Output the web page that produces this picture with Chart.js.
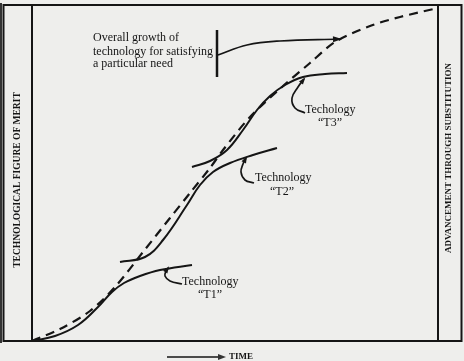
<!DOCTYPE html>
<html>
<head>
<meta charset="utf-8">
<script src="https://cdn.jsdelivr.net/npm/chart.js@4/dist/chart.umd.min.js"></script>
<style>
html,body{margin:0;padding:0;background:#eeeeec;}
#wrap{width:464px;height:361px;}
</style>
</head>
<body>
<div id="wrap"><canvas id="c" width="464" height="361"></canvas></div>
<script>
// Data space: x = time units from origin, y = figure of merit units from origin
const overallX = [0, 28, 58, 83, 111, 138, 158, 178, 191, 218, 250, 278, 303, 338, 368, 406];
const overallY = [0, 12, 30, 54, 89, 123, 148, 173, 191, 224, 254, 278, 299, 315, 324, 333];

const t1X = [0, 23, 46, 66, 80, 92, 108, 128, 160];
const t1Y = [0, 5, 16, 34, 49, 58, 65, 71, 76];

const t2X = [88, 113, 131, 155, 168, 181, 198, 221, 245];
const t2Y = [79, 84, 101, 136, 156, 169, 178, 186, 193];

const t3X = [160, 178, 195, 211, 225, 238, 253, 271, 293, 315];
const t3Y = [174, 180, 191, 211, 231, 245, 256, 264, 267, 268];

// leader arrows
const growthArrowX = [186, 215, 248, 308];
const growthArrowY = [286, 296, 300, 302];
const t3PointerX = [273, 263, 260, 266, 272];
const t3PointerY = [228, 233, 243, 254, 262];
const t2PointerX = [222, 213, 209, 211, 214];
const t2PointerY = [158, 161, 169, 177, 183];
const t1PointerX = [150, 138, 133, 134, 136];
const t1PointerY = [57, 60, 65, 70, 73];

const labelTexts = ["Overall growth of", "technology for satisfying", "a particular need",
  "Techology", "\u201CT3\u201D", "Technology", "\u201CT2\u201D", "Technology", "\u201CT1\u201D", "TIME"];
const labelX = [61, 61, 61, 273, 298, 223, 250, 150, 178, 197];
const labelY = [303, 289, 277, 231, 218, 163, 149, 59, 46, -16];
const labelAlign = ["left","left","left","left","center","left","center","left","center","left"];

const yAxisTitle = "TECHNOLOGICAL FIGURE OF MERIT";
const rightTitle = "ADVANCEMENT THROUGH SUBSTITUTION";

const zip = (xs, ys) => xs.map((x, i) => ({x: x, y: ys[i]}));
const ink = '#151515';

function ds(xs, ys, extra) {
  return Object.assign({
    data: zip(xs, ys), borderColor: ink, borderWidth: 2, pointRadius: 0,
    tension: 0.4, fill: false, showLine: true
  }, extra || {});
}

const framePlugin = {
  id: 'frame',
  beforeDraw(chart) {
    const ctx = chart.ctx;
    ctx.save();
    ctx.fillStyle = '#eeeeec';
    ctx.fillRect(0, 0, chart.width, chart.height);
    ctx.restore();
  },
  afterDatasetsDraw(chart) {
    const ctx = chart.ctx, a = chart.chartArea;
    ctx.save();
    ctx.strokeStyle = ink;
    ctx.lineWidth = 2;
    // outer box
    ctx.strokeRect(a.left - 28.5, a.top, (a.right + 23.5) - (a.left - 28.5), a.bottom - a.top);
    // inner verticals
    ctx.beginPath();
    ctx.moveTo(a.left, a.top); ctx.lineTo(a.left, a.bottom);
    ctx.moveTo(a.right, a.top); ctx.lineTo(a.right, a.bottom);
    ctx.stroke();
    // scan edge at left
    ctx.fillStyle = '#333';
    ctx.fillRect(0, a.top - 2, 2, a.bottom - a.top + 4);

    // arrowheads
    chart.data.datasets.forEach((d, i) => {
      if (!d.arrowEnd) return;
      const pts = chart.getDatasetMeta(i).data;
      const p = pts[pts.length - 1], q = pts[pts.length - 2];
      const ang = Math.atan2(p.y - q.y, p.x - q.x);
      const L = d.arrowLen || 7, Wd = d.arrowWid || 3;
      ctx.save();
      ctx.translate(p.x, p.y);
      ctx.rotate(ang);
      ctx.fillStyle = ink;
      ctx.beginPath();
      ctx.moveTo(2, 0); ctx.lineTo(-L, -Wd); ctx.lineTo(-L, Wd); ctx.closePath();
      ctx.fill();
      ctx.restore();
    });

    const xs = chart.scales.x, ys = chart.scales.y;
    // growth bracket bar
    ctx.lineWidth = 2.5;
    ctx.beginPath();
    ctx.moveTo(xs.getPixelForValue(185), ys.getPixelForValue(311));
    ctx.lineTo(xs.getPixelForValue(185), ys.getPixelForValue(264));
    ctx.stroke();

    // TIME arrow
    ctx.lineWidth = 1.5;
    const ty = ys.getPixelForValue(-16);
    ctx.beginPath();
    ctx.moveTo(xs.getPixelForValue(135), ty);
    ctx.lineTo(xs.getPixelForValue(188), ty);
    ctx.stroke();
    ctx.beginPath();
    ctx.moveTo(xs.getPixelForValue(194), ty);
    ctx.lineTo(xs.getPixelForValue(186), ty - 3);
    ctx.lineTo(xs.getPixelForValue(186), ty + 3);
    ctx.closePath(); ctx.fill();

    // labels
    ctx.fillStyle = ink;
    ctx.textBaseline = 'middle';
    labelTexts.forEach((t, i) => {
      ctx.font = (t === 'TIME') ? 'bold 9px "Liberation Serif"' : '12px "Liberation Serif"';
      ctx.textAlign = labelAlign[i];
      ctx.fillText(t, xs.getPixelForValue(labelX[i]), ys.getPixelForValue(labelY[i]));
    });

    // rotated side titles
    ctx.textAlign = 'center';
    ctx.save();
    ctx.font = 'bold 9.5px "Liberation Serif"';
    ctx.translate(a.left - 14, ys.getPixelForValue(161));
    ctx.rotate(-Math.PI / 2);
    ctx.fillText(yAxisTitle, 0, 0);
    ctx.restore();
    ctx.save();
    ctx.font = 'bold 9px "Liberation Serif"';
    ctx.translate(a.right + 11, ys.getPixelForValue(183));
    ctx.rotate(-Math.PI / 2);
    ctx.fillText(rightTitle, 0, 0);
    ctx.restore();
    ctx.restore();
  }
};

new Chart(document.getElementById('c'), {
  type: 'line',
  data: {
    datasets: [
      ds(overallX, overallY, {borderDash: [9, 6], borderWidth: 2.2, tension: 0.3}),
      ds(t1X, t1Y),
      ds(t2X, t2Y),
      ds(t3X, t3Y),
      ds(growthArrowX, growthArrowY, {arrowEnd: true, borderWidth: 1.7}),
      ds(t3PointerX, t3PointerY, {arrowEnd: true, borderWidth: 1.7, arrowLen: 5, arrowWid: 2.5}),
      ds(t2PointerX, t2PointerY, {arrowEnd: true, borderWidth: 1.7, arrowLen: 5, arrowWid: 2.5}),
      ds(t1PointerX, t1PointerY, {arrowEnd: true, borderWidth: 1.7, arrowLen: 5, arrowWid: 2.5})
    ]
  },
  options: {
    responsive: false,
    animation: false,
    layout: {padding: {left: 32, right: 26, top: 5, bottom: 20}},
    plugins: {legend: {display: false}, tooltip: {enabled: false}},
    scales: {
      x: {type: 'linear', min: 0, max: 406, display: false},
      y: {type: 'linear', min: 0, max: 336, display: false}
    }
  },
  plugins: [framePlugin]
});
</script>
</body>
</html>
